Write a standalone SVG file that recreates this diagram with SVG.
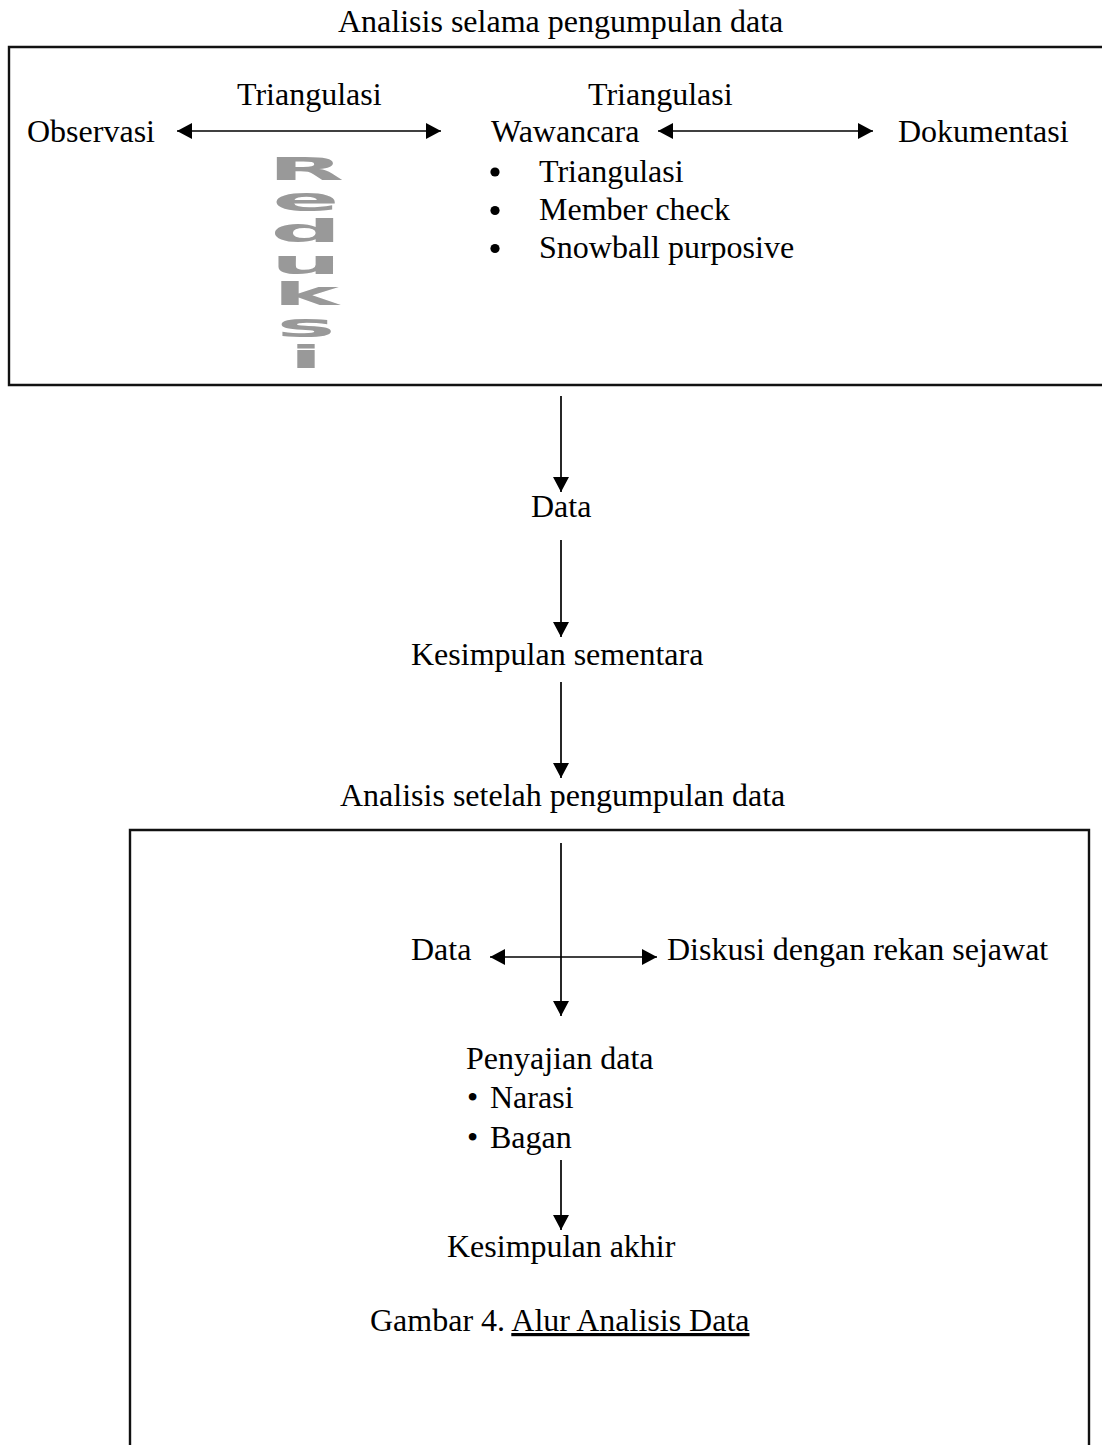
<svg xmlns="http://www.w3.org/2000/svg" width="1102" height="1445" viewBox="0 0 1102 1445">
<style>
.t{font-family:"Liberation Serif","Times New Roman",serif;font-size:32px;fill:#000}
.box{fill:none;stroke:#111;stroke-width:2.4}
.c{stroke:#000;stroke-width:1.7;fill:none}
.wa{font-family:"DejaVu Sans","Liberation Sans",sans-serif;font-weight:bold;fill:#999;font-size:32px;writing-mode:vertical-rl;text-orientation:upright;letter-spacing:-5.5px}
</style>
<defs>
<marker id="ah" markerUnits="userSpaceOnUse" markerWidth="16" markerHeight="16" refX="15" refY="8" orient="auto-start-reverse">
<path d="M0,0 L15,8 L0,16 z" fill="#000"/>
</marker>
</defs>
<rect width="1102" height="1445" fill="#fff"/>
<g id="frame-top">
<text class="t" x="338" y="32">Analisis selama pengumpulan data</text>
<path class="box" d="M1102,47 H9 V385 H1102"/>
</g>
<g id="observasi"><text class="t" x="27" y="142">Observasi</text></g>
<g id="triangulasi-1"><text class="t" x="237" y="105">Triangulasi</text></g>
<g id="triangulasi-2"><text class="t" x="588" y="105">Triangulasi</text></g>
<g id="wawancara">
<text class="t" x="491" y="142">Wawancara</text>
<circle cx="495" cy="172" r="4.6"/>
<circle cx="495" cy="210.5" r="4.6"/>
<circle cx="495" cy="248.5" r="4.6"/>
<text class="t" x="539" y="182">Triangulasi</text>
<text class="t" x="539" y="220">Member check</text>
<text class="t" x="539" y="258">Snowball purposive</text>
</g>
<g id="dokumentasi"><text class="t" x="898" y="142">Dokumentasi</text></g>
<g id="reduksi" transform="translate(306,0) scale(3.1,1)">
<text class="wa" x="0" y="150">Reduksi</text>
</g>
<g id="data-1"><text class="t" x="531" y="517">Data</text></g>
<g id="kesimpulan-sementara"><text class="t" x="411" y="665">Kesimpulan sementara</text></g>
<g id="frame-bottom">
<text class="t" x="340" y="806">Analisis setelah pengumpulan data</text>
<path class="box" d="M130,1445 V830 H1089 V1445"/>
</g>
<g id="data-2"><text class="t" x="411" y="960">Data</text></g>
<g id="diskusi"><text class="t" x="667" y="960">Diskusi dengan rekan sejawat</text></g>
<g id="penyajian">
<text class="t" x="466" y="1069">Penyajian data</text>
<text class="t" x="467" y="1108">•<tspan x="490">Narasi</tspan></text>
<text class="t" x="467" y="1148">•<tspan x="490">Bagan</tspan></text>
</g>
<g id="kesimpulan-akhir"><text class="t" x="447" y="1257">Kesimpulan akhir</text></g>
<g id="caption"><text class="t" x="370" y="1331">Gambar 4. <tspan text-decoration="underline">Alur Analisis Data</tspan></text></g>
<g id="connectors">
<line class="c" x1="177" y1="131" x2="441" y2="131" marker-start="url(#ah)" marker-end="url(#ah)"/>
<line class="c" x1="658" y1="131" x2="873" y2="131" marker-start="url(#ah)" marker-end="url(#ah)"/>
<line class="c" x1="561" y1="396" x2="561" y2="492" marker-end="url(#ah)"/>
<line class="c" x1="561" y1="540" x2="561" y2="637" marker-end="url(#ah)"/>
<line class="c" x1="561" y1="682" x2="561" y2="778" marker-end="url(#ah)"/>
<line class="c" x1="561" y1="843" x2="561" y2="1016" marker-end="url(#ah)"/>
<line class="c" x1="490" y1="957" x2="657" y2="957" marker-start="url(#ah)" marker-end="url(#ah)"/>
<line class="c" x1="561" y1="1160" x2="561" y2="1230" marker-end="url(#ah)"/>
</g>
</svg>
